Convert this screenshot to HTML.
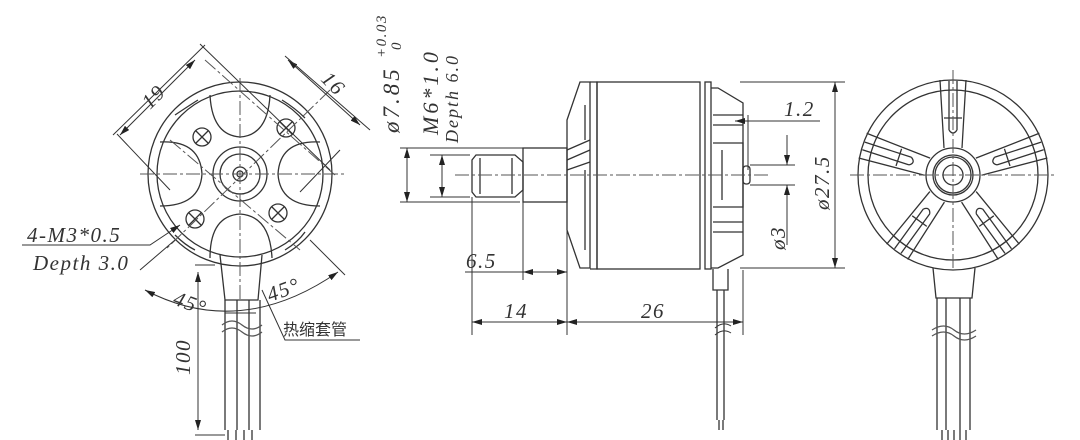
<!DOCTYPE html>
<html><head><meta charset="utf-8"><style>
html,body{margin:0;padding:0;background:#fff;}
svg{display:block}
.t{font-family:"Liberation Serif",serif;font-style:italic;font-size:21px;fill:#333;letter-spacing:1.5px}
</style></head><body>
<svg width="1080" height="440" viewBox="0 0 1080 440" xmlns="http://www.w3.org/2000/svg">
<defs>
<marker id="a" viewBox="0 0 10 6" refX="10" refY="3" markerWidth="10" markerHeight="6" orient="auto-start-reverse"><path d="M0,0L10,3L0,6z" fill="#222"/></marker>
</defs>
<g fill="none" stroke="#333" stroke-width="1.3">
<!-- LEFT VIEW -->
<circle cx="240" cy="174" r="92"/>
<circle cx="240" cy="174" r="83"/>
<circle cx="240" cy="174" r="27"/>
<circle cx="240" cy="174" r="20"/>
<circle cx="240" cy="174" r="7"/>
<circle cx="240" cy="174" r="3"/>
<path d="M210 95 Q212 135 240 137 Q268 135 270 95"/>
<path d="M160 142 Q200 140 202 174 Q200 206 160 206"/>
<path d="M320 142 Q280 140 278 174 Q280 206 320 206"/>
<path d="M210 258 Q210 216 240 214 Q270 216 272 258"/>
<path d="M175 115 Q190 105 198 100 M282 100 Q295 108 305 118 M175 235 Q185 245 195 250 M285 250 Q298 242 305 232"/>
<circle cx="202" cy="137" r="9"/><path d="M196 131l12 12M208 131l-12 12"/>
<circle cx="286" cy="128" r="9"/><path d="M280 122l12 12M292 122l-12 12"/>
<circle cx="195" cy="219" r="9"/><path d="M189 213l12 12M201 213l-12 12"/>
<circle cx="278" cy="213" r="9"/><path d="M272 207l12 12M284 207l-12 12"/>
<path d="M220 255 L225 300 L258 300 L262 255"/>
<path d="M225 300V430M237 300V430M249 300V430M260 300V430"/>
<path d="M228 430v10M236 430v10M244 430v10M252 430v10"/>
<path d="M222 325q10 -8 20 0t20 0M222 332q10 -8 20 0t20 0" stroke="#555"/>
<g stroke="#555" stroke-width="1" stroke-dasharray="14 3 3 3">
<path d="M240 78V300M140 174H345M205 60L335 175M330 90L165 250M170 140L300 250"/>
</g>
<g stroke-width="1">
<path d="M205 45L113 135M117 134L170 190M200 44L330 170"/>
<path d="M195 60L120 135" marker-start="url(#a)" marker-end="url(#a)"/>
<path d="M288 60L360 125" marker-start="url(#a)" marker-end="url(#a)"/>
<path d="M285 56L370 130M340 150L300 192"/>
<path d="M145 290Q240 340 338 272" marker-start="url(#a)" marker-end="url(#a)"/>
<path d="M140 270L175 240M310 240L345 275"/>
<path d="M22 245H150L180 225" marker-end="url(#a)"/>
<path d="M198 272V430" marker-start="url(#a)" marker-end="url(#a)"/>
<path d="M195 265H215M195 435H225"/>
<path d="M262 290L285 340H360"/>
<path d="M225 313H256"/>
</g>
</g>
<text class="t" transform="translate(150,110) rotate(-45)">19</text>
<text class="t" transform="translate(320,80) rotate(45)">16</text>
<text class="t" x="27" y="242">4-M3*0.5</text>
<text class="t" x="33" y="270">Depth  3.0</text>
<text class="t" transform="translate(172,304) rotate(20)">45°</text>
<text class="t" transform="translate(270,302) rotate(-20)">45°</text>
<text transform="translate(190,375) rotate(-90)" class="t">100</text>
<text x="283" y="335" style="font-family:'Liberation Sans','Noto Sans CJK SC',sans-serif;font-size:16px;fill:#333">热缩套管</text>

<!-- MIDDLE VIEW -->
<g fill="none" stroke="#333" stroke-width="1.3">
<path d="M476 155H515L523 162V190L515 197H476L472 192V160Z"/>
<path d="M480 158V194M512 158V194"/>
<rect x="523" y="148" width="44" height="54"/>
<path d="M590 82H580L567 120V230L580 268H590Z"/>
<path d="M590 82H597V269H590"/>
<rect x="597" y="82" width="103" height="187"/>
<path d="M567 150L590 140M567 160L590 150M567 170L590 162"/>
<path d="M585 105V140M585 170V250"/>
<rect x="705" y="82" width="6" height="187"/>
<path d="M711 88H718L743 103V255L718 268H711"/>
<path d="M713 115H743M713 125H743M713 143H743V207H713M713 222H743M713 232H743"/>
<path d="M722 150V200"/>
<rect x="743" y="166" width="7" height="18" rx="3"/>
<path d="M713 269V290H728V269M717 290V420M724 290V420M719 420V430M723 420V430"/>
<g stroke-width="1">
<path d="M400 148H560M400 202H520M430 155H470M430 197H470"/>
<path d="M407 148V202" marker-start="url(#a)" marker-end="url(#a)"/>
<path d="M442 155V197" marker-start="url(#a)" marker-end="url(#a)"/>
<path d="M472 197V335M523 202V280M567 202V335M743 270V335"/>
<path d="M465 272H523" />
<path d="M523 272H567" marker-start="url(#a)" marker-end="url(#a)"/>
<path d="M472 322H567" marker-start="url(#a)" marker-end="url(#a)"/>
<path d="M567 322H743" marker-start="url(#a)" marker-end="url(#a)"/>
<path d="M820 121H735" marker-end="url(#a)"/>
<path d="M748 115V170"/>
<path d="M750 165H795M750 185H795"/>
<path d="M787 135V165" marker-end="url(#a)"/>
<path d="M787 245V185" marker-end="url(#a)"/>
<path d="M740 82H845M740 268H845"/>
<path d="M835 82V268" marker-start="url(#a)" marker-end="url(#a)"/>
<path d="M715 328q8 -7 16 -2M715 335q8 -7 16 -2"/>
</g>
<path d="M455 175H770" stroke="#555" stroke-width="1" stroke-dasharray="14 3 3 3"/>
</g>
<text class="t" style="font-size:23px;letter-spacing:3px" transform="translate(399,133) rotate(-90)">ø7.85</text>
<text class="t" style="font-size:15px" transform="translate(386,58) rotate(-90)">+0.03</text>
<text class="t" style="font-size:15px" transform="translate(401,50) rotate(-90)">0</text>
<text class="t" style="font-size:22px;letter-spacing:3px" transform="translate(438,135) rotate(-90)">M6*1.0</text>
<text class="t" style="font-size:18px;letter-spacing:2px" transform="translate(458,143) rotate(-90)">Depth 6.0</text>
<text class="t" x="466" y="268">6.5</text>
<text class="t" x="504" y="318">14</text>
<text class="t" x="641" y="318">26</text>
<text class="t" x="784" y="116">1.2</text>
<text class="t" transform="translate(785,250) rotate(-90)">ø3</text>
<text class="t" transform="translate(829,210) rotate(-90)">ø27.5</text>

<!-- RIGHT VIEW -->
<g fill="none" stroke="#333" stroke-width="1.3">
<circle cx="953" cy="175" r="95"/>
<circle cx="953" cy="175" r="85"/>
<circle cx="953" cy="175" r="27"/>
<circle cx="953" cy="175" r="20"/>
<circle cx="953" cy="175" r="18"/>
<circle cx="953" cy="175" r="10"/>
<g id="sp">
<path d="M944 148L940 80M962 148L966 80M949 81V130M957 81V130M949 130Q953 136 957 130M944 118H962"/>
</g>
<use href="#sp" transform="rotate(72 953 175)"/>
<use href="#sp" transform="rotate(144 953 175)"/>
<use href="#sp" transform="rotate(216 953 175)"/>
<use href="#sp" transform="rotate(288 953 175)"/>
<path d="M933 268L936 298H972L975 268"/>
<path d="M937 298V430M946 298V430M960 298V430M970 298V430"/>
<path d="M942 430v10M948 430v10M954 430v10M960 430v10M966 430v10"/>
<path d="M932 330q12 -8 22 0t22 0M932 336q12 -8 22 0t22 0" stroke="#555"/>
<path d="M953 70V270M850 175H1055" stroke="#555" stroke-width="1" stroke-dasharray="14 3 3 3"/>
</g>
</svg>
</body></html>
